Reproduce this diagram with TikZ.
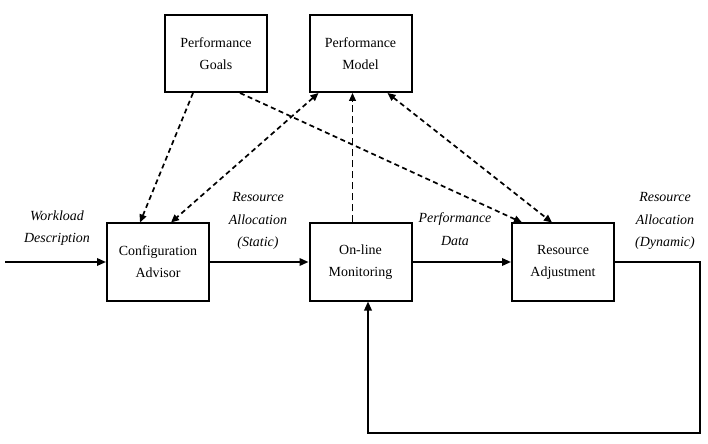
\documentclass[tikz,border=0pt]{standalone}
\usepackage{fontspec}
\setmainfont{Liberation Serif}
\usepackage{tikz}
\usetikzlibrary{arrows.meta}
\usetikzlibrary{calc}

\begin{document}
\begin{tikzpicture}[x=1bp, y=-1bp, >={Triangle[length=8bp, width=7bp]},
        blockbox/.style={draw, line width=2bp, minimum width=102bp, minimum height=77bp,
            align=center, font=\fontsize{14}{22}\selectfont, inner sep=0pt},
        flowlabel/.style={align=center, font=\fontsize{14}{22.5}\selectfont\itshape, inner sep=0pt},
        flow/.style={line width=1.8bp, -{Triangle[length=9bp, width=7.5bp]}},
        infoline/.style={line width=1.7bp, dash pattern=on 5bp off 3.5bp}]
        \useasboundingbox (0,0) rectangle (708,444);

        % Blocks
        \node[blockbox] (goals)   at (216,53.5)  {Performance\\Goals};
        \node[blockbox] (model)   at (360.5,53.5) {Performance\\Model};
        \node[blockbox] (config)  at (158,262)   {Configuration\\Advisor};
        \node[blockbox] (monitor) at (360.5,262) {On-line\\Monitoring};
        \node[blockbox] (adjust)  at (563,262)   {Resource\\Adjustment};

        % Main flow
        \coordinate (input) at (5,262);
        \draw[flow] (input) -- (config.west);
        \draw[flow] (config.east) -- (monitor.west);
        \draw[flow] (monitor.east) -- (adjust.west);

        % Feedback loop
        \coordinate (loop) at (700,433);
        \draw[flow] (adjust.east) -| (loop) -| ([xshift=7.5bp]monitor.south);

        % Dashed links to goals and model
        \draw[infoline, ->] ([xshift=-23bp]goals.south) -- ([xshift=-18bp]config.north);
        \draw[infoline, ->] ([xshift=24bp]goals.south) -- ([xshift=-41bp]adjust.north);
        \draw[infoline, <->] ([xshift=-42bp]model.south) -- ([xshift=13bp]config.north);
        \draw[infoline, <->] ([xshift=27bp]model.south) -- ([xshift=-11bp]adjust.north);
        \draw[line width=1bp, dash pattern=on 7bp off 4bp, ->]
            ([xshift=-8bp]monitor.north) -- ([xshift=-8bp]model.south);

        % Labels
        \node[flowlabel] (workload) at (57,228)  {Workload\\Description};
        \node[flowlabel] (static)   at (258,221) {Resource\\Allocation\\(Static)};
        \node[flowlabel] (perfdata) at (455,229) {Performance\\Data};
        \node[flowlabel] (dynamic)  at (665,221) {Resource\\Allocation\\(Dynamic)};
    \end{tikzpicture}
\end{document}
